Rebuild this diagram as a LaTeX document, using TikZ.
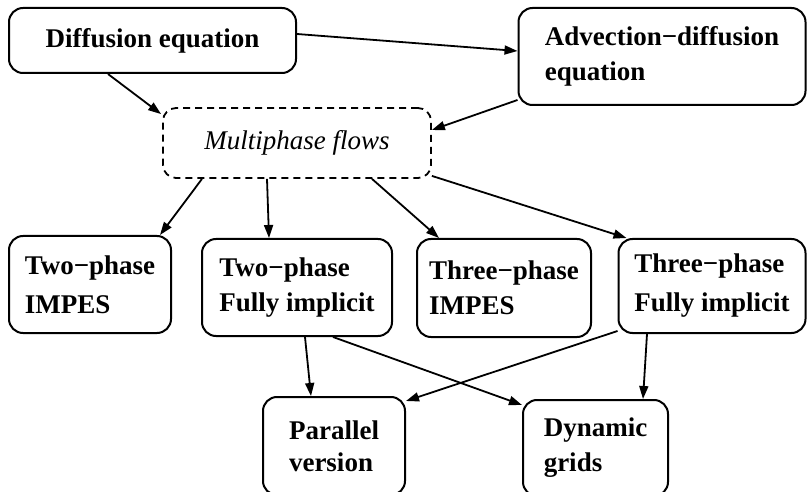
\documentclass[tikz,border=0pt]{standalone}
\usepackage{fontspec}
\setmainfont{Liberation Serif}
\usetikzlibrary{arrows.meta}
\begin{document}
\begin{tikzpicture}[x=1pt,y=-1pt,
  box/.style={draw, line width=2pt, rounded corners=14pt, align=left,
    font=\fontsize{27}{35}\selectfont\bfseries, inner sep=0pt},
  hubbox/.style={draw, line width=1.8pt, dash pattern=on 7pt off 5pt,
    rounded corners=13pt, font=\fontsize{27}{35}\selectfont\itshape, inner sep=0pt},
  link/.style={line width=1.8pt, -{Triangle[length=13pt,width=9pt]}}]
\useasboundingbox (0,0) rectangle (807,492);
% top row
\node[box, minimum width=287pt, minimum height=65pt] (dif) at (152.5,40.5) {Diffusion equation};
\node[box, minimum width=287pt, minimum height=97pt] (adv) at (662,56.5) {Advection−diffusion\\equation};
% central topic
\node[hubbox, minimum width=268pt, minimum height=70pt] (mp) at (297,143) {Multiphase flows};
% solver variants
\node[box, minimum width=162pt, minimum height=97pt] (t2i) at (90,284.5) {Two−phase\\[4pt]IMPES};
\node[box, minimum width=190pt, minimum height=97pt] (t2f) at (297,287.5) {Two−phase\\Fully implicit};
\node[box, minimum width=174pt, minimum height=98pt] (t3i) at (504,288) {Three−phase\\IMPES};
\node[box, minimum width=187pt, minimum height=94pt] (t3f) at (712,286) {Three−phase\\[4pt]Fully implicit};
% extensions
\node[box, minimum width=142pt, minimum height=98pt] (par) at (334,446) {Parallel\\[-3pt]version};
\node[box, minimum width=145pt, minimum height=96pt] (dyn) at (595.5,448) {Dynamic\\grids};
% connectors
\draw[link] ([yshift=6.5pt]dif.east) -- ([yshift=5.5pt]adv.west);
\draw[link] ([xshift=-44.5pt]dif.south) -- ([xshift=-1pt,yshift=-7pt]mp.north west);
\draw[link] ([yshift=6pt]adv.south west) -- ([yshift=13pt]mp.east);
\draw[link] ([xshift=-95pt]mp.south) -- ([xshift=-12pt]t2i.north east);
\draw[link] ([xshift=-30pt]mp.south) -- ([xshift=-28pt]t2f.north);
\draw[link] ([xshift=75pt]mp.south) -- ([xshift=23pt]t3i.north west);
\draw[link] ([yshift=3pt]mp.south east) -- ([xshift=9pt]t3f.north west);
\draw[link] ([xshift=8pt]t2f.south) -- ([xshift=-23pt]par.north);
\draw[link] ([xshift=36pt]t2f.south) -- ([yshift=-6pt]dyn.north west);
\draw[link] ([yshift=3pt]t3f.south west) -- ([yshift=-5pt]par.north east);
\draw[link] ([xshift=-65pt]t3f.south) -- ([xshift=47.5pt]dyn.north);
\end{tikzpicture}
\end{document}
